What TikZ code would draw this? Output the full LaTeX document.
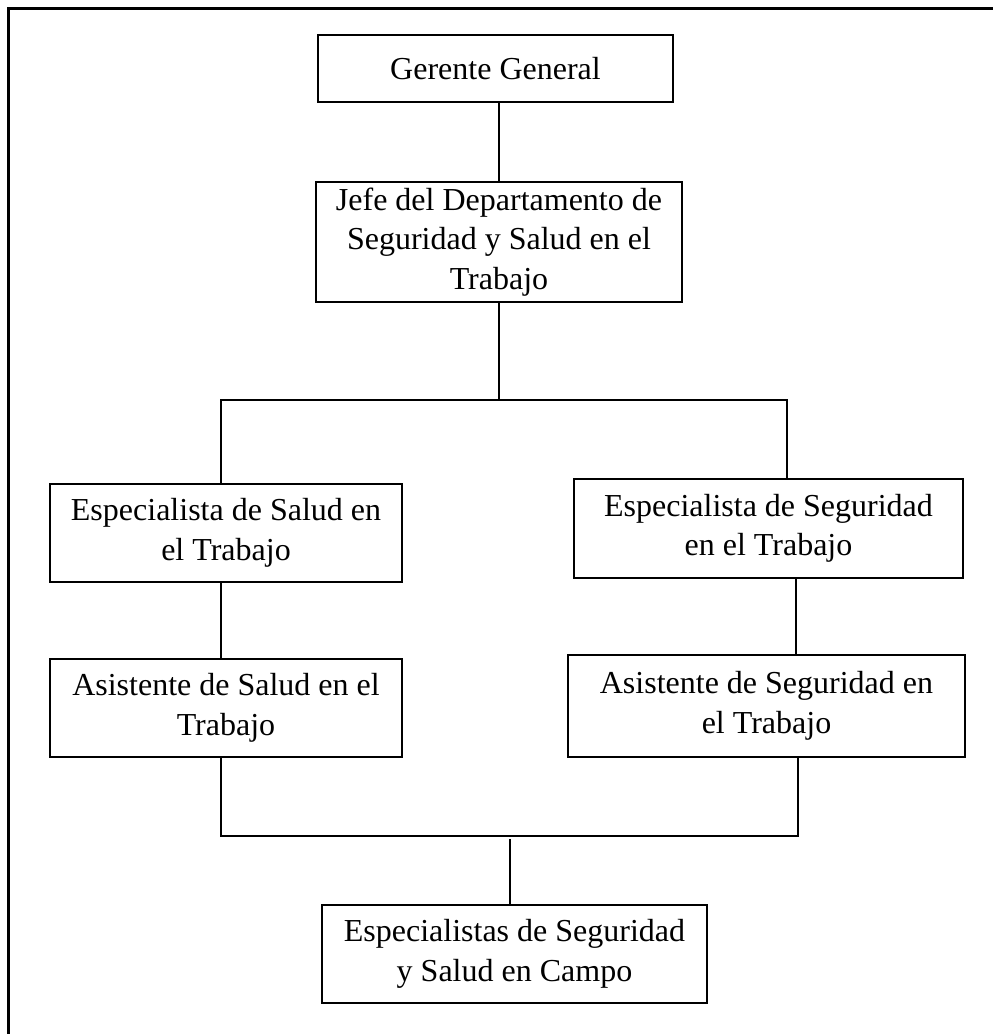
\documentclass[tikz,border=0pt]{standalone}
\usepackage{fontspec}
\setmainfont{Liberation Serif}
\usepackage{tikz}

\begin{document}
\begin{tikzpicture}[x=0.5pt,y=-0.5pt,line width=0.6pt,
	orgbox/.style={draw,inner sep=0pt,align=center,font=\fontsize{16pt}{19.75pt}\selectfont}]
			\useasboundingbox (0,0) rectangle (993,1034);
			\draw[line width=1.5pt] (8,1034) -- (8,8) -- (993,8);
			\node[orgbox,minimum width=177.5pt,minimum height=33.5pt] (gerente) at (495.5,68.5) {Gerente General};
			\node[orgbox,minimum width=183pt,minimum height=60pt] (jefe) at (499,242) {Jefe del Departamento de\\Seguridad y Salud en el\\Trabajo};
			\node[orgbox,minimum width=176pt,minimum height=49pt] (espsalud) at (226,533) {Especialista de Salud en\\el Trabajo};
			\node[orgbox,minimum width=194.5pt,minimum height=49.5pt] (espseg) at (768.5,528.5) {Especialista de Seguridad\\en el Trabajo};
			\node[orgbox,minimum width=176pt,minimum height=49pt] (asisalud) at (226,708) {Asistente de Salud en el\\Trabajo};
			\node[orgbox,minimum width=198.5pt,minimum height=51pt] (asiseg) at (766.5,706) {Asistente de Seguridad en\\el Trabajo};
			\node[orgbox,minimum width=192.5pt,minimum height=49pt] (campo) at (514.5,954) {Especialistas de Seguridad\\y Salud en Campo};
			\coordinate (topL) at (221,400);
			\coordinate (topR) at (787,400);
			\coordinate (segR) at (796,580);
			\coordinate (lowL) at (221,836);
			\coordinate (lowR) at (798,836);
			\coordinate (lowM) at (510,839);
			\draw (jefe.north |- gerente.south) -- (jefe.north);
			\draw (jefe.south) -- (jefe.south |- topL);
			\draw (topL |- espsalud.north) -- (topL) -- (topR) -- (topR |- espseg.north);
			\draw (espsalud.south -| topL) -- (asisalud.north -| topL);
			\draw (segR |- espseg.south) -- (segR |- asiseg.north);
			\draw (asisalud.south -| lowL) -- (lowL) -- (lowR) -- (lowR |- asiseg.south);
			\draw (lowM) -- (lowM |- campo.north);
		\end{tikzpicture}
\end{document}
